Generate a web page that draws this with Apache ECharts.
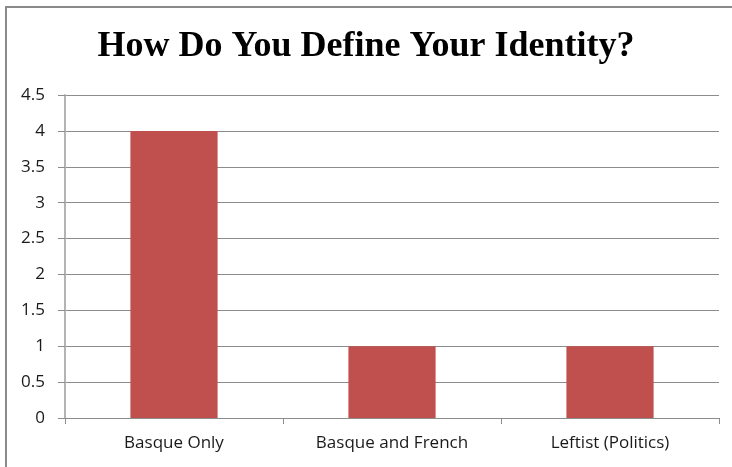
<!DOCTYPE html>
<html>
<head>
<meta charset="utf-8">
<style>
  html, body { margin: 0; padding: 0; background: #ffffff; }
  #chart { width: 732px; height: 467px; }
</style>
<script src="https://cdn.jsdelivr.net/npm/echarts@6/dist/echarts.min.js"></script>
</head>
<body>
<div id="chart"></div>
<script>
// Survey responses: how respondents define their identity
const categories = ['Basque Only', 'Basque and French', 'Leftist (Politics)'];
const responses = [4, 1, 1];
const yTicks = { min: 0, max: 4.5, interval: 0.5 };

const chart = echarts.init(document.getElementById('chart'), null, { renderer: 'canvas' });

chart.setOption({
  backgroundColor: '#ffffff',
  animation: false,
  title: {
    text: 'How Do You Define Your Identity?',
    left: 'center',
    top: 24,
    textStyle: {
      fontFamily: 'Liberation Serif',
      fontWeight: 'bold',
      fontSize: 36,
      color: '#000000'
    }
  },
  graphic: [
    { type: 'line', shape: { x1: 5, y1: 7, x2: 732, y2: 7 }, style: { stroke: '#8a8a8a', lineWidth: 2 } },
    { type: 'line', shape: { x1: 6, y1: 6, x2: 6, y2: 467 }, style: { stroke: '#8a8a8a', lineWidth: 2 } }
  ],
  grid: { left: 65, right: 13, top: 95, bottom: 49, containLabel: false },
  xAxis: {
    type: 'category',
    data: categories,
    axisLine: { lineStyle: { color: '#8c8c8c', width: 1 } },
    axisTick: { show: true, length: 6, lineStyle: { color: '#8c8c8c' } },
    axisLabel: { margin: 17, fontFamily: 'Open Sans', fontSize: 17, color: '#1a1a1a' }
  },
  yAxis: {
    type: 'value',
    min: yTicks.min,
    max: yTicks.max,
    interval: yTicks.interval,
    axisLine: { show: true, lineStyle: { color: '#b4b4b4', width: 2 } },
    axisTick: { show: true, length: 7, lineStyle: { color: '#8c8c8c' } },
    axisLabel: { margin: 20, fontFamily: 'Open Sans', fontSize: 17, color: '#1a1a1a' },
    splitLine: { show: true, lineStyle: { color: '#8c8c8c', width: 1 } }
  },
  series: [{
    type: 'bar',
    data: responses,
    barWidth: '40%',
    itemStyle: { color: '#c0504d' }
  }]
});
</script>
</body>
</html>
